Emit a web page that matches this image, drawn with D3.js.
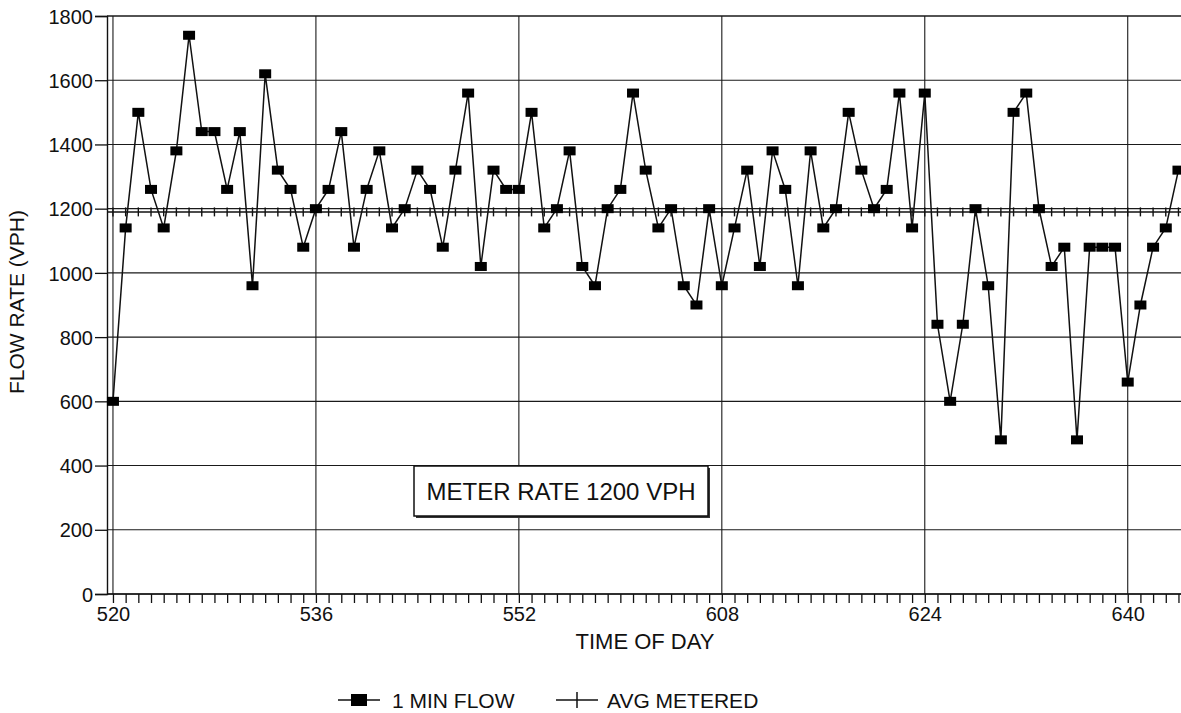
<!DOCTYPE html>
<html>
<head>
<meta charset="utf-8">
<script src="https://cdn.jsdelivr.net/npm/d3@7"></script>
<style>
  body { margin: 0; background: #fff; }
  text { font-family: "Liberation Sans", Arial, sans-serif; fill: #111; }
</style>
</head>
<body>
<div id="chart"></div>
<script>
// 1 minute flow counts, one per minute starting 5:20
var flow = [600, 1140, 1500, 1260, 1140, 1380, 1740, 1440, 1440, 1260,
            1440, 960, 1620, 1320, 1260, 1080, 1200, 1260, 1440, 1080,
            1260, 1380, 1140, 1200, 1320, 1260, 1080, 1320, 1560, 1020,
            1320, 1260, 1260, 1500, 1140, 1200, 1380, 1020, 960, 1200,
            1260, 1560, 1320, 1140, 1200, 960, 900, 1200, 960, 1140,
            1320, 1020, 1380, 1260, 960, 1380, 1140, 1200, 1500, 1320,
            1200, 1260, 1560, 1140, 1560, 840, 600, 840, 1200, 960,
            480, 1500, 1560, 1200, 1020, 1080, 480, 1080, 1080, 1080,
            660, 900, 1080, 1140, 1320];
var avgMetered = 1190;
var tickMinutes = [0, 16, 32, 48, 64, 80];
var tickLabels = ["520", "536", "552", "608", "624", "640"];
var yTicks = [0, 200, 400, 600, 800, 1000, 1200, 1400, 1600, 1800];
var seriesNames = ["1 MIN FLOW", "AVG METERED"];
var note = "METER RATE 1200 VPH";

var width = 1181, height = 713;
var plotLeft = 107, plotTop = 16, plotBottom = 594;

var svg = d3.select("#chart").append("svg")
    .attr("width", width)
    .attr("height", height);

var x = d3.scaleLinear().domain([-0.47, 84.2]).range([plotLeft, width]);
var y = d3.scaleLinear().domain([0, 1800]).range([plotBottom, plotTop]);

var minutes = d3.range(flow.length);

// grid
svg.append("g").selectAll("line")
    .data(yTicks)
  .enter().append("line")
    .attr("x1", plotLeft).attr("x2", width)
    .attr("y1", function(d) { return y(d); })
    .attr("y2", function(d) { return y(d); })
    .attr("stroke", "#1a1a1a")
    .attr("stroke-width", function(d) { return d === 1800 ? 1.6 : 1.1; });

svg.append("g").selectAll("line")
    .data(tickMinutes)
  .enter().append("line")
    .attr("x1", function(d) { return x(d); })
    .attr("x2", function(d) { return x(d); })
    .attr("y1", plotTop).attr("y2", plotBottom)
    .attr("stroke", "#1a1a1a")
    .attr("stroke-width", 1.1);

// y axis
var yAxis = svg.append("g")
    .attr("transform", "translate(" + plotLeft + ",0)")
    .call(d3.axisLeft(y).tickValues(yTicks).tickSize(12).tickPadding(2)
      .tickFormat(d3.format("d")));
yAxis.select(".domain").attr("stroke", "#111").attr("stroke-width", 1.4);
yAxis.selectAll(".tick line").attr("stroke", "#111").attr("stroke-width", 1.3);
yAxis.selectAll(".tick text")
    .attr("font-size", 20)
    .attr("dy", "0.36em")
    .style("font-family", '"Liberation Sans", Arial, sans-serif')
    .attr("fill", "#111");

// x axis: minor tick every minute, labels at the majors
var xAxis = svg.append("g")
    .attr("transform", "translate(0," + plotBottom + ")")
    .call(d3.axisBottom(x).tickValues(minutes).tickSize(9)
      .tickFormat(function(d) {
        var i = tickMinutes.indexOf(d);
        return i >= 0 ? tickLabels[i] : "";
      }));
xAxis.select(".domain").attr("d", "M" + plotLeft + ",0H" + width).attr("stroke", "#111").attr("stroke-width", 1.5);
xAxis.selectAll(".tick line").attr("stroke", "#111").attr("stroke-width", 1.3);
xAxis.selectAll(".tick text")
    .attr("font-size", 20)
    .attr("y", 13)
    .style("font-family", '"Liberation Sans", Arial, sans-serif')
    .attr("fill", "#111");

// avg metered line with + marks
svg.append("line")
    .attr("x1", plotLeft).attr("x2", width)
    .attr("y1", y(avgMetered)).attr("y2", y(avgMetered))
    .attr("stroke", "#111").attr("stroke-width", 1.5);

svg.append("g").selectAll("line")
    .data(minutes)
  .enter().append("line")
    .attr("x1", function(d) { return x(d); })
    .attr("x2", function(d) { return x(d); })
    .attr("y1", y(avgMetered) - 4.5)
    .attr("y2", y(avgMetered) + 4.5)
    .attr("stroke", "#111").attr("stroke-width", 1.4);

// flow line
var line = d3.line()
    .x(function(d, i) { return x(i); })
    .y(function(d) { return y(d); });

svg.append("path")
    .datum(flow)
    .attr("d", line)
    .attr("fill", "none")
    .attr("stroke", "#111")
    .attr("stroke-width", 1.5);

svg.append("g").selectAll("rect")
    .data(flow)
  .enter().append("rect")
    .attr("x", function(d, i) { return x(i) - 6; })
    .attr("y", function(d) { return y(d) - 4.5; })
    .attr("width", 12)
    .attr("height", 9)
    .attr("fill", "#000");

// note box
var noteG = svg.append("g").attr("transform", "translate(414,466)");
noteG.append("rect")
    .attr("x", 2).attr("y", 2)
    .attr("width", 294).attr("height", 50)
    .attr("fill", "#333");
noteG.append("rect")
    .attr("width", 294).attr("height", 50)
    .attr("fill", "#fff")
    .attr("stroke", "#111").attr("stroke-width", 1.5);
noteG.append("text")
    .attr("x", 147).attr("y", 34)
    .attr("text-anchor", "middle")
    .attr("font-size", 24)
    .text(note);

// axis titles
svg.append("text")
    .attr("transform", "translate(24,302) rotate(-90)")
    .attr("text-anchor", "middle")
    .attr("font-size", 21)
    .text("FLOW RATE (VPH)");

svg.append("text")
    .attr("x", 645).attr("y", 649)
    .attr("text-anchor", "middle")
    .attr("font-size", 22)
    .text("TIME OF DAY");

// legend
var legend = svg.append("g").attr("transform", "translate(338,700)");
var item1 = legend.append("g");
item1.append("line").attr("x1", 0).attr("x2", 42).attr("stroke", "#111").attr("stroke-width", 1.5);
item1.append("rect").attr("x", 13).attr("y", -6).attr("width", 16).attr("height", 12).attr("fill", "#000");
item1.append("text").attr("x", 54).attr("y", 8).attr("font-size", 21).text(seriesNames[0]);

var item2 = legend.append("g").attr("transform", "translate(218,0)");
item2.append("line").attr("x1", 0).attr("x2", 42).attr("stroke", "#111").attr("stroke-width", 1.5);
item2.append("line").attr("x1", 21).attr("x2", 21).attr("y1", -8).attr("y2", 8).attr("stroke", "#111").attr("stroke-width", 1.5);
item2.append("text").attr("x", 51).attr("y", 8).attr("font-size", 21).text(seriesNames[1]);
</script>
</body>
</html>
